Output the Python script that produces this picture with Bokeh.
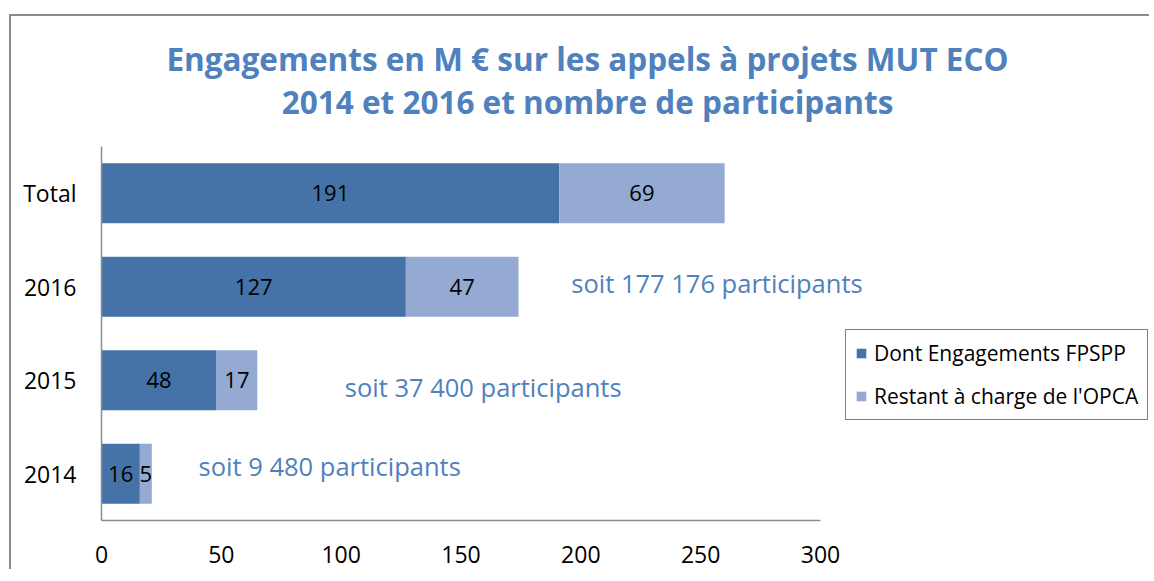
from bokeh.plotting import figure
from bokeh.models import ColumnDataSource, Range1d, Legend, LegendItem, FixedTicker
from bokeh.core.properties import value
from bokeh.embed import file_html
from bokeh.resources import INLINE

# ---- data ----
categories = ["2014", "2015", "2016", "Total"]
fpspp = [16, 48, 127, 191]
opca = [5, 17, 47, 69]
participants_years = ["2014", "2015", "2016"]
participants = ["9 480", "37 400", "177 176"]
x_ticks = [0, 50, 100, 150, 200, 250, 300]
x_max = 300
title_lines = ["Engagements en M € sur les appels à projets MUT ECO",
               "2014 et 2016 et nombre de participants"]

FONT = "Open Sans"
DARK = "#4573A8"
LIGHT = "#95AAD3"
BLUE_TXT = "#4F81BD"

W, H = 1140, 555
ML, MR, MT, MB = 90, 2, 0, 51
frame_w = W - ML - MR
frame_h = H - MT - MB
px_per_x = 719 / x_max            # 0..300 spans 719 px
px_per_cat = 93.5                 # one category band
x_end = frame_w / px_per_x
y_top = frame_h / px_per_cat
n_cat = len(categories)

ypos = [i + 0.5 for i in range(n_cat)]
cat_y = dict(zip(categories, ypos))

p = figure(width=W, height=H, output_backend="svg", toolbar_location=None,
           x_range=Range1d(0, x_end), y_range=Range1d(0, y_top),
           min_border_left=ML, min_border_right=MR, min_border_top=MT,
           min_border_bottom=MB, title=None)
p.styles = {"border-top": "2px solid #8a8a8a", "border-left": "2px solid #8a8a8a",
            "margin-top": "14px", "margin-left": "9px"}

src = ColumnDataSource(dict(
    y=ypos, fpspp=fpspp, opca=opca,
    end=[a + b for a, b in zip(fpspp, opca)],
    mid1=[a / 2 for a in fpspp],
    mid2=[a + b / 2 for a, b in zip(fpspp, opca)],
    t1=[str(a) for a in fpspp], t2=[str(b) for b in opca],
))

r1 = p.hbar(y="y", left=0, right="fpspp", height=0.64, color=DARK, line_color=None, source=src)
r2 = p.hbar(y="y", left="fpspp", right="end", height=0.64, color=LIGHT, line_color=None, source=src)

p.text(x="mid1", y="y", text="t1", source=src, text_align="center", text_baseline="middle",
       text_font=value(FONT), text_font_size="22px", text_color="black")
p.text(x="mid2", y="y", text="t2", source=src, text_align="center", text_baseline="middle",
       text_font=value(FONT), text_font_size="22px", text_color="black")

ann = ColumnDataSource(dict(
    y=[cat_y[c] for c in participants_years],
    x=[40.5, 101.5, 196],
    t=["soit %s participants" % s for s in participants],
    dy=[-8, 7, -4],
))
p.text(x="x", y="y", text="t", y_offset="dy", source=ann, text_align="left", text_baseline="middle",
       text_font=value(FONT), text_font_size="25.5px", text_color=BLUE_TXT)

# title, drawn as two centred lines above the bars
title_src = ColumnDataSource(dict(
    x=[(587 - 101) / px_per_x] * 2,
    y=[n_cat + 88 / px_per_cat, n_cat + 45 / px_per_cat],
    t=title_lines,
))
p.text(x="x", y="y", text="t", source=title_src, text_align="center", text_baseline="middle",
       text_font=value(FONT), text_font_size="31.5px", text_font_style="bold",
       text_color=BLUE_TXT)

# axes
p.xaxis.ticker = FixedTicker(ticks=x_ticks)
p.xaxis.bounds = (0, x_max)
p.yaxis.ticker = FixedTicker(ticks=ypos)
p.yaxis.major_label_overrides = {y: c for y, c in zip(ypos, categories)}
p.yaxis.bounds = (0, n_cat)
for ax in (p.xaxis[0], p.yaxis[0]):
    ax.axis_line_color = "#8c8c8c"
    ax.axis_line_width = 1.5
    ax.major_tick_line_color = None
    ax.minor_tick_line_color = None
    ax.major_label_text_font = FONT
    ax.major_label_text_font_size = "23px"
    ax.major_label_text_color = "black"
p.xaxis.major_label_standoff = 19
p.yaxis.major_label_standoff = 19
p.xgrid.visible = False
p.ygrid.visible = False
p.outline_line_color = None

legend = Legend(items=[LegendItem(label="Dont Engagements FPSPP", renderers=[r1]),
                       LegendItem(label="Restant à charge de l'OPCA", renderers=[r2])],
                location=(744, 100), orientation="vertical")
legend.border_line_color = "black"
legend.border_line_width = 1.5
legend.label_text_font = FONT
legend.label_text_font_size = "21px"
legend.label_text_color = "black"
legend.glyph_width = 12
legend.glyph_height = 12
legend.label_height = 20
legend.label_standoff = 7
legend.spacing = 15
legend.padding = 9
legend.margin = 0
legend.background_fill_alpha = 1
p.add_layout(legend, "center")

open("out.html", "w").write(file_html(p, INLINE))
